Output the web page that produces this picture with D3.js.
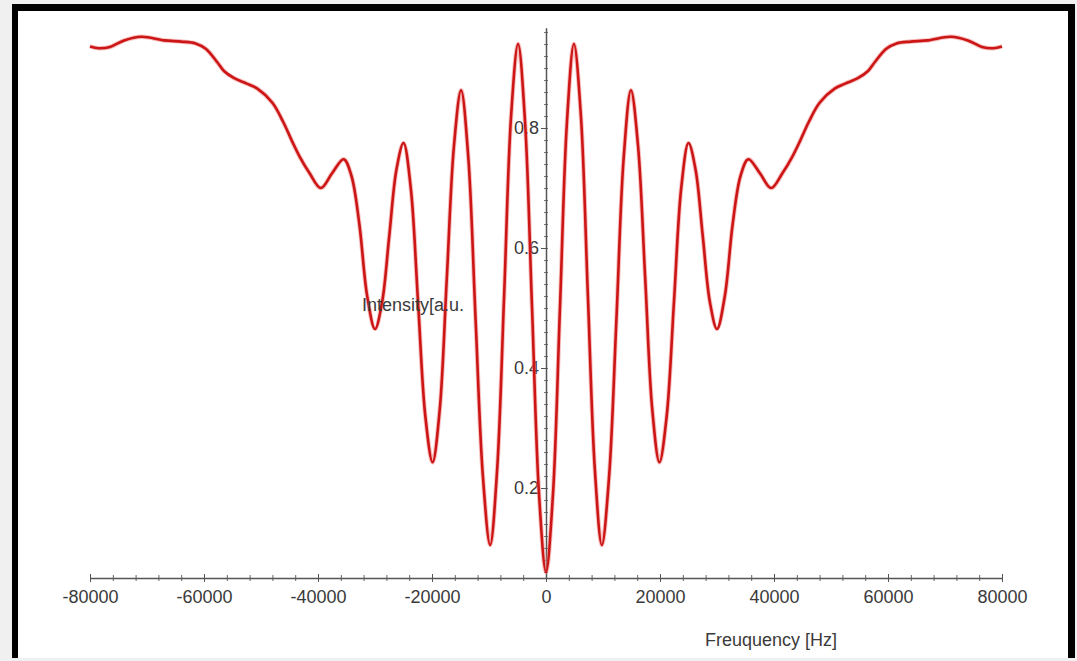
<!DOCTYPE html>
<html>
<head>
<meta charset="utf-8">
<script src="https://cdn.jsdelivr.net/npm/d3@7"></script>
<style>
  body { margin: 0; background: #fff; }
  text { font-family: "Liberation Sans", Arial, sans-serif; }
</style>
</head>
<body>
<script>
// values, frequency in Hz, intensity in a.u.
var freq = [
  -80000, -78500, -76500, -74000, -71000, -67000, -64000, -61500, -59700, -57700,
  -56500, -54700, -52500, -50700, -48000, -46100, -44600, -43200, -41500, -39500,
  -37500, -35500, -34125, -32750, -31375, -30000, -28750, -27500, -26250, -25000,
  -23725, -22450, -21175, -19900, -18650, -17400, -16150, -14900, -13625, -12350,
  -11075, -9800, -8575, -7350, -6125, -4900, -3675, -2450, -1225, 0,
  1225, 2450, 3675, 4900, 6125, 7350, 8575, 9800, 11075, 12350,
  13625, 14900, 16150, 17400, 18650, 19900, 21175, 22450, 23725, 25000,
  26250, 27500, 28750, 30000, 31375, 32750, 34125, 35500, 37500, 39500,
  41500, 43200, 44600, 46100, 48000, 50700, 52500, 54700, 56500, 57700,
  59700, 61500, 64000, 67000, 71000, 74000, 76500, 78500, 80000
];
var intensity = [
  0.936, 0.933, 0.935, 0.946, 0.952, 0.946, 0.944, 0.941, 0.932, 0.910,
  0.895, 0.883, 0.874, 0.866, 0.842, 0.810, 0.779, 0.752, 0.725, 0.700,
  0.725, 0.748, 0.720, 0.640, 0.520, 0.465, 0.510, 0.620, 0.730, 0.775,
  0.700, 0.510, 0.320, 0.243, 0.330, 0.550, 0.770, 0.863, 0.750, 0.480,
  0.220, 0.105, 0.230, 0.520, 0.820, 0.940, 0.810, 0.500, 0.190, 0.060,
  0.190, 0.500, 0.810, 0.940, 0.820, 0.520, 0.230, 0.105, 0.220, 0.480,
  0.750, 0.863, 0.770, 0.550, 0.330, 0.243, 0.320, 0.510, 0.700, 0.775,
  0.730, 0.620, 0.510, 0.465, 0.520, 0.640, 0.720, 0.748, 0.725, 0.700,
  0.725, 0.752, 0.779, 0.810, 0.842, 0.866, 0.874, 0.883, 0.895, 0.910,
  0.932, 0.941, 0.944, 0.946, 0.952, 0.946, 0.935, 0.933, 0.936
];
var xTicks = [-80000, -60000, -40000, -20000, 0, 20000, 40000, 60000, 80000];
var yTicks = [0.2, 0.4, 0.6, 0.8];

var width = 1077, height = 661;

var svg = d3.select('body').append('svg')
            .attr('width', width)
            .attr('height', height);

svg.append('rect').attr('width', width).attr('height', height).attr('fill', '#f0f0f0');
svg.append('rect').attr('x', 12).attr('y', 4).attr('width', 1063).attr('height', 654)
   .attr('fill', '#000');
svg.append('rect').attr('x', 18).attr('y', 11).attr('width', 1050).attr('height', 647)
   .attr('fill', '#fff');

var x = d3.scaleLinear().domain([-80000, 80000]).range([90, 1002]);
var y = d3.scaleLinear().domain([0.05, 0.967]).range([578, 27.8]);

// x axis
var xAxis = svg.append('g').attr('transform', 'translate(0,' + y(0.05) + ')');
xAxis.append('g')
     .call(d3.axisBottom(x).tickValues(d3.range(-80000, 80001, 4000)).tickSize(3).tickFormat(''))
     .call(function(g) { g.select('.domain').remove(); })
     .selectAll('line').attr('y1', -3).attr('stroke', '#666');
xAxis.append('g')
     .call(d3.axisBottom(x).tickValues(xTicks).tickSizeInner(4).tickSizeOuter(0).tickFormat(d3.format('d')))
     .call(function(g) {
       g.select('.domain').attr('stroke', '#555').attr('stroke-width', 1.5);
       g.selectAll('line').attr('y1', -4).attr('stroke', '#555');
       g.selectAll('text').attr('y', 12).attr('font-size', 18).attr('fill', '#3a3a3a')
        .text(function(d) { return d < 0 ? '-' + Math.abs(d) : d; });
     });

// y axis
var yAxis = svg.append('g').attr('transform', 'translate(' + x(0) + ',0)');
yAxis.append('g')
     .call(d3.axisLeft(y).tickValues(d3.range(0.06, 0.961, 0.02)).tickSize(2).tickFormat(''))
     .call(function(g) { g.select('.domain').remove(); })
     .selectAll('line').attr('x1', 2).attr('stroke', '#777');
yAxis.append('g')
     .call(d3.axisLeft(y).tickValues(yTicks).tickSizeInner(5).tickSizeOuter(0).tickFormat(d3.format('.1f')))
     .call(function(g) {
       g.select('.domain').attr('stroke', '#555').attr('stroke-width', 1.5);
       g.selectAll('line').attr('stroke', '#555');
       g.selectAll('text').attr('x', -7).attr('font-size', 18).attr('fill', '#3a3a3a');
     });

// curve
var points = freq.map(function(f, i) { return [f, intensity[i]]; });
var line = d3.line()
             .x(function(d) { return x(d[0]); })
             .y(function(d) { return y(d[1]); })
             .curve(d3.curveCatmullRom.alpha(0.5));

svg.append('path').datum(points)
   .attr('d', line)
   .attr('fill', 'none')
   .attr('stroke', '#f08080')
   .attr('stroke-opacity', 0.5)
   .attr('stroke-width', 4.5);
svg.append('path').datum(points)
   .attr('d', line)
   .attr('fill', 'none')
   .attr('stroke', '#cc1515')
   .attr('stroke-width', 2.6);

// axis titles
svg.append('text').attr('x', 362).attr('y', 311)
   .attr('font-size', 18).attr('fill', '#3a3a3a')
   .text('Intensity[a.u.');
svg.append('text').attr('x', 705).attr('y', 646)
   .attr('font-size', 18).attr('fill', '#3a3a3a')
   .text('Freuquency [Hz]');
</script>
</body>
</html>
